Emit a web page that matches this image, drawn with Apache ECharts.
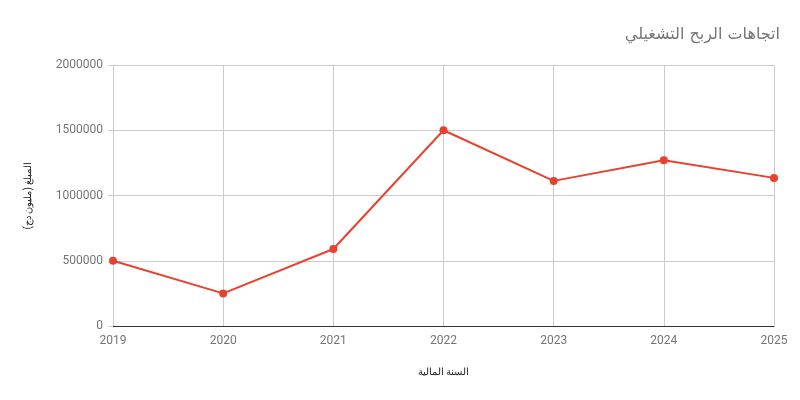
<!DOCTYPE html>
<html>
<head>
<meta charset="utf-8">
<script src="https://cdn.jsdelivr.net/npm/echarts@6/dist/echarts.min.js"></script>
<style>
    html, body { margin: 0; padding: 0; background: #fff; }
    #chart { width: 800px; height: 400px; }
</style>
</head>
<body>
<div id="chart"></div>
<script>
// البيانات
const years = ['2019', '2020', '2021', '2022', '2023', '2024', '2025']
const operatingProfit = [500000, 250000, 590000, 1500000, 1112000, 1270000, 1135000]
const yTicks = { min: 0, max: 2000000, interval: 500000 }

const chartTitle = 'اتجاهات الربح التشغيلي'
const xName = 'السنة المالية'
const yName = 'المبلغ (مليون دج)'

let chart = echarts.init(document.getElementById('chart'), null, { renderer: 'canvas' })

let option = {
    animation: false,
    backgroundColor: '#ffffff',
    textStyle: { fontFamily: 'Roboto, "Noto Sans", sans-serif' },
    title: {
        text: chartTitle,
        right: 15,
        top: 22,
        textStyle: { fontSize: 16, fontWeight: 'normal', color: '#757575', fontFamily: '"DejaVu Sans", Arial, sans-serif' }
    },
    grid: { left: 113, right: 26, top: 65, bottom: 74 },
    xAxis: {
        type: 'category',
        data: years,
        boundaryGap: false,
        name: xName,
        nameLocation: 'middle',
        nameGap: 41,
        nameTextStyle: { fontSize: 10, color: '#222' },
        axisLine: { lineStyle: { color: '#333', width: 1.2 } },
        axisTick: { show: false },
        axisLabel: { color: '#757575', fontSize: 12, margin: 9 },
        splitLine: { show: true, lineStyle: { color: '#cccccc' } }
    },
    yAxis: {
        type: 'value',
        min: yTicks.min,
        max: yTicks.max,
        interval: yTicks.interval,
        name: yName,
        nameLocation: 'middle',
        nameGap: 80,
        nameRotate: 90,
        nameTextStyle: { fontSize: 10, color: '#222' },
        axisLine: { show: false },
        axisTick: { show: true, length: 5, lineStyle: { color: '#cccccc' } },
        axisLabel: { color: '#757575', fontSize: 12, margin: 10, formatter: v => String(v) },
        splitLine: { show: true, lineStyle: { color: '#cccccc' } }
    },
    series: [{
        type: 'line',
        data: operatingProfit,
        color: '#e8412f',
        symbol: 'circle',
        symbolSize: 8,
        lineStyle: { width: 2 },
        itemStyle: { color: '#e8412f' }
    }]
}

chart.setOption(option)
</script>
</body>
</html>
